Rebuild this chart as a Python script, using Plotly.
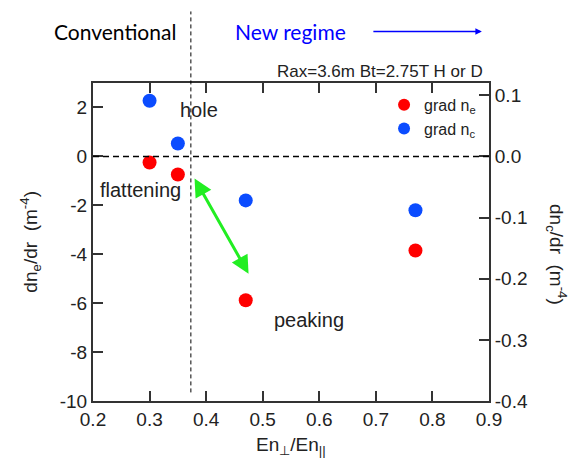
import plotly.graph_objects as go

# data
ratio = [0.30, 0.35, 0.47, 0.77]
grad_ne = [-0.25, -0.74, -5.88, -3.85]       # left axis, m^-4
grad_nc = [0.091, 0.021, -0.072, -0.088]     # right axis, m^-4
x_ticks = [0.2, 0.3, 0.4, 0.5, 0.6, 0.7, 0.8, 0.9]
y_ticks = [-10, -8, -6, -4, -2, 0, 2]
y2_ticks = [-0.4, -0.3, -0.2, -0.1, 0.0, 0.1]
boundary = 0.373
arrow_from = (0.378, -0.84)
arrow_to = (0.475, -4.8)

FONT = "Liberation Sans, Arial, sans-serif"
TXT = "#222222"
AX = "#333333"

fig = go.Figure()
fig.add_trace(go.Scatter(x=ratio, y=grad_ne, mode="markers", name="grad n<sub>e</sub>",
                         marker=dict(color="#FF0000", size=14), yaxis="y"))
fig.add_trace(go.Scatter(x=ratio, y=grad_nc, mode="markers", name="grad n<sub>c</sub>",
                         marker=dict(color="#0B4CFF", size=14), yaxis="y2"))

fig.update_layout(
    width=572, height=455,
    margin=dict(l=85, r=91, t=75, b=62),
    paper_bgcolor="white", plot_bgcolor="white",
    font=dict(family=FONT, color=TXT, size=19),
    showlegend=True,
    legend=dict(x=0.735, y=0.985, xanchor="left", yanchor="top", bgcolor="rgba(0,0,0,0)",
                font=dict(size=16, family=FONT, color=TXT), itemsizing="constant",
                tracegroupgap=0, itemwidth=30),
    xaxis=dict(range=[0.2, 0.9], tickvals=x_ticks, ticktext=[f"{v:.1f}" for v in x_ticks],
               showgrid=False, zeroline=False, showline=True, linecolor=AX, linewidth=2,
               ticks="inside", ticklen=10, tickwidth=1.5, tickcolor=AX, mirror="ticks",
               tickfont=dict(size=19, family=FONT, color=TXT)),
    yaxis=dict(range=[-10, 3], tickvals=y_ticks, ticktext=[str(v) for v in y_ticks],
               showgrid=False, zeroline=False, showline=True, linecolor=AX, linewidth=2,
               ticks="inside", ticklen=10, tickwidth=1.5, tickcolor=AX,
               tickfont=dict(size=19, family=FONT, color=TXT)),
    yaxis2=dict(range=[-0.4, 0.12], tickvals=y2_ticks,
                ticktext=[("-" if v < 0 else "") + f"{abs(v):.1f}" for v in y2_ticks],
                overlaying="y", side="right",
                showgrid=False, zeroline=False, showline=True, linecolor=AX, linewidth=2,
                ticks="inside", ticklen=10, tickwidth=1.5, tickcolor=AX,
                tickfont=dict(size=19, family=FONT, color=TXT)),
)

# dashed lines
fig.add_shape(type="line", xref="x", yref="paper", x0=boundary, x1=boundary, y0=0.027, y1=1.225,
              line=dict(color="black", width=1, dash="4px,3px"))
fig.add_shape(type="line", xref="paper", yref="y", x0=0, x1=1, y0=0, y1=0,
              line=dict(color="black", width=1.5, dash="6px,4px"))

# green double arrow
fig.add_annotation(x=arrow_to[0], y=arrow_to[1], ax=arrow_from[0], ay=arrow_from[1],
                   xref="x", yref="y", axref="x", ayref="y", text="",
                   showarrow=True, arrowhead=2, startarrowhead=2, arrowside="end+start",
                   arrowsize=1.2, startarrowsize=1.2, arrowwidth=3, arrowcolor="#22EE22")

ann = dict(showarrow=False, xanchor="center", yanchor="middle",
           font=dict(family=FONT, size=20, color=TXT))
fig.add_annotation(x=0.387, y=1.9, xref="x", yref="y", text="hole", **ann)
fig.add_annotation(x=0.284, y=-1.36, xref="x", yref="y", text="flattening", **ann)
fig.add_annotation(x=0.581, y=-6.69, xref="x", yref="y", text="peaking", **ann)

fig.add_annotation(x=0.989, y=1.036, xref="paper", yref="paper", xanchor="right", yanchor="middle",
                   text="Rax=3.6m Bt=2.75T H or D", showarrow=False,
                   font=dict(family=FONT, size=17, color=TXT))
fig.add_annotation(x=0.055, y=1.162, xref="paper", yref="paper", text="Conventional",
                   xanchor="center", yanchor="middle",
                   showarrow=False, font=dict(family="Lato, sans-serif", size=21, color="black"))
fig.add_annotation(x=0.499, y=1.162, xref="paper", yref="paper", text="New regime",
                   xanchor="center", yanchor="middle",
                   showarrow=False, font=dict(family="Lato, sans-serif", size=21, color="#0000FF"))
fig.add_annotation(x=0.982, y=1.162, xref="paper", yref="paper", ax=-110, ay=0, text="",
                   showarrow=True, arrowhead=2, arrowsize=1, arrowwidth=1.3, arrowcolor="#0000FF")

# axis titles
fig.add_annotation(x=-0.16, y=0.5, xref="paper", yref="paper", textangle=-90,
                   xanchor="center", yanchor="middle",
                   text="dn<sub>e</sub>/dr  (m<sup>-4</sup>)", showarrow=False,
                   font=dict(family=FONT, size=19, color=TXT))
fig.add_annotation(x=1.171, y=0.46, xref="paper", yref="paper", textangle=90,
                   xanchor="center", yanchor="middle",
                   text="dn<sub>c</sub>/dr  (m<sup>-4</sup>)", showarrow=False,
                   font=dict(family=FONT, size=19, color=TXT))
fig.add_annotation(x=0.499, y=-0.14, xref="paper", yref="paper",
                   xanchor="center", yanchor="middle",
                   text="En<sub>\u22a5</sub>/En<sub>||</sub>", showarrow=False,
                   font=dict(family=FONT, size=19, color=TXT))

fig.write_html("out.html")
